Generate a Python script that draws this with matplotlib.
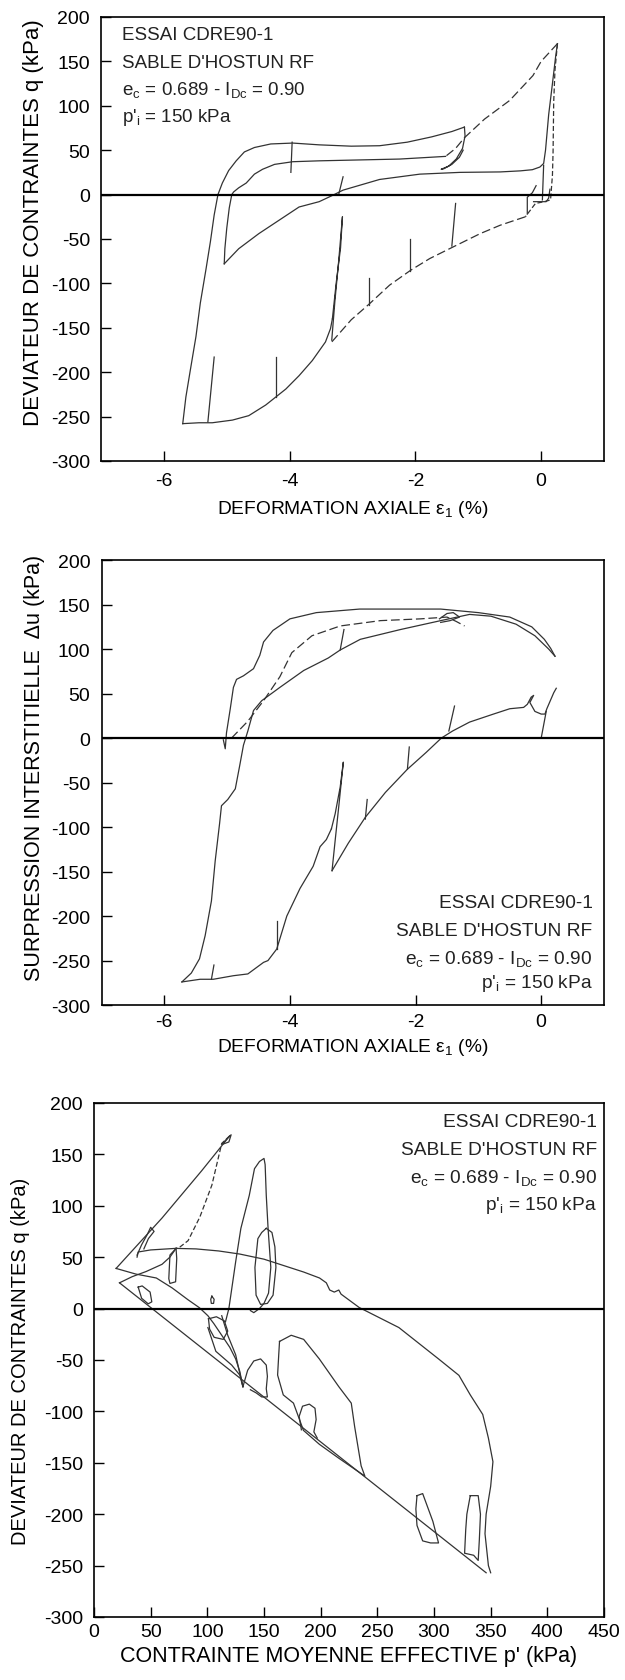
import matplotlib
matplotlib.use("Agg")
import matplotlib.pyplot as plt

plt.rcParams['font.family'] = ['Liberation Sans', 'DejaVu Sans']
plt.rcParams['mathtext.fontset'] = 'custom'
plt.rcParams['mathtext.rm'] = 'Liberation Sans'
plt.rcParams['mathtext.it'] = 'Liberation Sans:italic'
plt.rcParams['axes.unicode_minus'] = False

# ---------------- Panel 1 : q vs axial strain ----------------
p1_branch_x = [-5.70, -5.65, -5.58, -5.49, -5.42, -5.33, -5.26, -5.20, -5.14, -5.07, -4.97, -4.85, -4.72,
               -4.56, -4.30, -3.95, -3.53, -3.02, -2.57, -2.13, -1.74, -1.42, -1.22]
p1_branch_y = [-258, -228, -198, -160, -122, -84, -53, -23, 0, 13, 27, 38, 48,
               53, 57, 58, 56, 54.5, 55, 59, 65, 71, 76]
p1_loop_x = [-1.22, -1.21, -1.25, -1.35, -1.47, -1.59, -1.55, -1.42, -1.30, -1.24]
p1_loop_y = [76, 66, 52, 40, 32, 28.5, 29, 34, 42, 50]
p1_desc_x = [0.26, 0.0, -0.13, -0.5, -0.9, -1.22, -1.36, -1.52]
p1_desc_y = [170, 150, 134, 106, 85, 64, 52, 43]
p1_mid_x = [-1.52, -2.25, -2.89, -3.53, -3.95, -4.24, -4.43, -4.56, -4.69, -4.81, -4.89, -4.92,
            -4.96, -5.00, -5.03, -5.04]
p1_mid_y = [43, 40, 39, 38, 37, 34, 28.5, 23, 13, 7.6, 3, 0, -15, -38, -61, -78]
p1_rise_x = [-5.04, -4.81, -4.49, -4.17, -3.85, -3.53, -3.32, -3.15, -2.57, -1.93, -1.29, -0.65,
             -0.33, -0.14, -0.02, 0.04, 0.07, 0.12, 0.18, 0.23, 0.26]
p1_rise_y = [-78, -61, -44, -29, -14, -8, -1, 5, 17, 23, 25, 25.5, 26.7, 28, 31, 35, 50, 90, 125, 155, 170]
p1_drop_x = [0.26, 0.22, 0.20, 0.19, 0.18, 0.15, 0.05, -0.09, -0.23, -0.25]
p1_drop_y = [170, 140, 104, 48, 22, -6, -8, -10, -23, -25]
p1_low_x = [-0.25, -0.65, -0.97, -1.40, -1.77, -2.07, -2.41, -2.73, -3.02, -3.33]
p1_low_y = [-25, -34.5, -44, -59, -72, -85, -102, -123, -141, -166]
p1_bottom_x = [-3.32, -3.35, -3.43, -3.64, -3.85, -4.06, -4.22, -4.38, -4.65, -4.91, -5.23, -5.44, -5.70]
p1_bottom_y = [-140, -151, -166, -187, -204, -219, -228, -237, -249, -254, -257, -257, -258]
p1_bigspike_x = [-3.33, -3.28, -3.22, -3.16, -3.19, -3.26, -3.32]
p1_bigspike_y = [-164, -120, -75, -25, -60, -100, -140]
p1_small1_x = [-0.22, -0.22, -0.14, -0.08]
p1_small1_y = [-22, -3, 2, 10]
p1_small2_x = [-0.12, 0.08, 0.12, 0.14]
p1_small2_y = [-8, -8, -4, 6]
p1_small3_x = [0.02, 0.04]
p1_small3_y = [-6, 33]
p1_spk_bx = [-1.42, -2.08, -2.73, -4.22, -5.30, -3.98, -3.22]
p1_spk_by = [-58, -86, -124, -228, -256, 25, 0]
p1_spk_tx = [-1.36, -2.08, -2.73, -4.22, -5.20, -3.96, -3.15]
p1_spk_ty = [-10, -50, -94, -183, -183, 59, 20]

# ---------------- Panel 2 : pore pressure vs axial strain ----------------
p2_top_x = [-5.06, -5.03, -5.01, -4.95, -4.90, -4.85, -4.74, -4.58, -4.48, -4.42, -4.27, -4.0, -3.58,
            -2.89, -2.24, -1.60, -1.0, -0.5, -0.15, 0.05, 0.15, 0.22]
p2_top_y = [-2, -12, 6, 33, 57, 66, 70, 78, 93, 108, 121, 134, 141,
            145, 145, 145, 141, 136, 125, 111, 101, 92]
p2_mid_x = [-4.93, -4.67, -4.42, -4.16, -3.97, -3.65, -3.20, -2.56, -1.92, -1.50, -1.35, -1.22]
p2_mid_y = [0, 19, 42, 69, 96, 115, 126, 132, 134, 136, 131, 126]
p2_s_x = [-5.72, -5.57, -5.44, -5.35, -5.25, -5.19, -5.12, -5.09, -4.99, -4.87, -4.80, -4.74, -4.67,
          -4.58, -4.45, -4.16, -3.78, -3.39, -3.20, -2.88, -2.24, -1.60, -1.14, -0.8, -0.4, -0.1, 0.12, 0.22]
p2_s_y = [-274, -264, -248, -222, -183, -138, -96, -76, -69, -57, -31, -8, 8,
          31, 42, 57, 76, 90, 99, 111, 122, 132, 139, 137, 128, 115, 100, 92]
p2_hook_x = [-1.62, -1.50, -1.40, -1.30, -1.45, -1.60]
p2_hook_y = [134, 140, 141, 136, 132, 130]
p2_bottom_x = [-3.34, -3.42, -3.52, -3.63, -3.84, -4.05, -4.21, -4.35, -4.42, -4.67, -4.90, -5.22, -5.43, -5.72]
p2_bottom_y = [-102, -114, -122, -144, -169, -200, -237, -250, -252, -265, -267, -271, -271, -274]
p2_low_x = [-3.33, -3.07, -2.80, -2.48, -2.13, -1.83, -1.59, -1.41, -1.14, -0.76, -0.50, -0.28, -0.22,
            -0.16, -0.12, -0.18, -0.10, 0.0, 0.06, 0.09, 0.20, 0.24]
p2_low_y = [-149, -118, -89, -61, -35, -16, 0, 8, 18, 27, 33, 34.5, 38, 46, 48, 40, 30, 27, 27, 33, 51, 56]
p2_bigspike_x = [-3.33, -3.28, -3.22, -3.15, -3.20, -3.28, -3.34]
p2_bigspike_y = [-149, -115, -75, -27, -55, -85, -102]
p2_vert_x = [0.0, 0.08]
p2_vert_y = [0, 30]
p2_spk_bx = [-4.21, -5.25, -1.47, -2.13, -2.80, -3.20]
p2_spk_by = [-237, -271, 8, -35, -91, 99]
p2_spk_tx = [-4.21, -5.21, -1.38, -2.10, -2.77, -3.14]
p2_spk_ty = [-206, -255, 36, -10, -69, 122]

# ---------------- Panel 3 : q vs p' ----------------
p3_upper_x = [19.5, 60, 95, 119.8]
p3_upper_y = [39, 88, 134, 168]
p3_lobe_x = [113, 118, 121, 119, 114]
p3_lobe_y = [160, 166, 169, 162, 160]
p3_lower_x = [22.5, 346]
p3_lower_y = [25, -257]
p3_peakdesc_x = [119.8, 112.7, 104, 93.4, 83, 76, 72.4]
p3_peakdesc_y = [168, 160.6, 120, 89, 66, 60, 58.5]
p3_big_x = [38, 39, 50, 72, 90, 110, 128.6, 150, 164, 185, 199, 205, 208, 212, 216, 218, 234, 269, 304,
            322, 332, 343, 348, 352, 350, 346, 345, 348, 350]
p3_big_y = [50, 55, 57, 58.5, 58, 56, 53, 48, 43, 35.5, 29.7, 25, 18, 16, 18, 14, 1, -18.5, -49,
            -65, -84, -103, -126, -149, -173, -200, -219, -250, -257]
p3_tipcurve_x = [22.5, 33.7, 46, 60, 67, 72.4]
p3_tipcurve_y = [25, 31, 36, 43, 50, 58.5]
p3_tipdesc_x = [19.5, 37, 55, 69, 83, 93, 100.5, 105.7, 112.7, 119.8, 125, 128.6, 131.4]
p3_tipdesc_y = [39, 33.5, 29.7, 20, 8.5, 0.8, -7, -14.6, -26, -37.7, -49, -61, -76]
p3_loop58_x = [72.4, 67, 66, 67, 72, 73, 72.4]
p3_loop58_y = [58.5, 52, 29, 24.4, 26, 48.7, 58.5]
p3_lloop_x = [39, 42.5, 49.5, 51, 47.8, 42, 39]
p3_lloop_y = [20.8, 22, 16, 6.5, 4.6, 10, 20.8]
p3_llobe_x = [38, 42, 47, 50, 53, 48, 44]
p3_llobe_y = [52, 62, 72, 79, 75, 68, 58]
p3_tall_x = [116, 119, 122, 125, 129.6, 137, 141.6, 146, 150, 151, 152, 153.6, 156, 154, 150, 146, 141, 138]
p3_tall_y = [-13, 0, 22.7, 45.5, 78, 110, 136, 143, 146, 140, 110, 78, 40, 15, 5, 0, -4, -2]
p3_med_x = [152, 157, 159.6, 160.5, 158, 153, 147, 143, 142, 144.6, 148, 152]
p3_med_y = [78, 74, 60, 40, 13, 5, 4, 13, 40, 68, 74, 78]
p3_oval_x = [104, 106, 105.5, 103.5, 103, 104]
p3_oval_y = [12, 9, 5, 5, 9, 12]
p3_loopa_x = [101, 108, 115, 118, 114, 106, 102, 101]
p3_loopa_y = [-10, -8, -12, -22, -30, -28, -20, -10]
p3_inner1_x = [100.5, 107.5, 121.5, 128.6, 131.4]
p3_inner1_y = [-18.5, -41.6, -55, -64.7, -76]
p3_line2_x = [112.7, 118, 125, 128, 131.4]
p3_line2_y = [-7, -26, -45, -60, -76]
p3_round_x = [131.4, 135.6, 141, 147, 152, 153, 152, 153, 148, 143, 138]
p3_round_y = [-76, -60, -51, -49, -55, -66, -78, -86, -86, -82, -79]
p3_bigin_x = [163.7, 174, 185, 198.8, 216, 227, 230, 235.7, 239, 216, 198.8, 184.8, 176, 167, 162, 163, 163.7]
p3_bigin_y = [-32, -26, -30, -49, -76, -92, -115, -153, -163, -145.6, -132, -118.5, -92, -84, -64.7, -45, -32]
p3_smallin_x = [183, 181, 184, 190, 195, 196, 194, 197]
p3_smallin_y = [-118, -105, -95, -93, -97, -108, -120, -126]
p3_r1_x = [285, 290, 294, 299, 304, 297, 290, 285, 284, 285]
p3_r1_y = [-182, -180, -192, -207, -228, -228, -226, -211, -195, -182]
p3_r2_x = [332, 339, 341, 340, 339, 335, 327, 328, 329, 332]
p3_r2_y = [-182, -182, -200, -225, -245, -240, -238, -215, -200, -182]

info_lines = ["ESSAI CDRE90-1", "SABLE D'HOSTUN RF",
              r"e$_\mathrm{c}$ = 0.689 - I$_\mathrm{Dc}$ = 0.90", r"p'$_\mathrm{i}$ = 150 kPa"]
p1_info_y = [180, 149, 118.5, 88]
p2_info_y = [-185, -216, -247, -275]
p3_info_y = [182, 155, 128, 101]

strain_ticks = [-6, -4, -2, 0]
q_ticks = [200, 150, 100, 50, 0, -50, -100, -150, -200, -250, -300]
p_ticks = [0, 50, 100, 150, 200, 250, 300, 350, 400, 450]

LC = '#333333'
LW = 0.9

fig = plt.figure(figsize=(6.25, 16.81), dpi=100)
ax1 = fig.add_axes([0.1616, 0.7252, 0.8048, 0.2641])
ax2 = fig.add_axes([0.1624, 0.4015, 0.8040, 0.2647])
ax3 = fig.add_axes([0.1504, 0.0375, 0.8160, 0.3058])


def style(ax, xlim, xticks, xpad, ypad):
    ax.set_xlim(*xlim)
    ax.set_ylim(-300, 200)
    ax.set_xticks(xticks)
    ax.set_yticks(q_ticks)
    ax.tick_params(direction='in', length=7, width=1, labelsize=14, top=False, right=False)
    ax.tick_params(axis='x', pad=xpad)
    ax.tick_params(axis='y', pad=ypad)
    for s in ax.spines.values():
        s.set_linewidth(1.2)
    ax.axhline(0, color='black', lw=1.6, zorder=3)


def line(ax, x, y, ls='-'):
    ax.plot(x, y, color=LC, lw=LW, ls=ls, zorder=2)


# Panel 1
style(ax1, (-7, 1), strain_ticks, 8, 8)
line(ax1, p1_branch_x, p1_branch_y)
line(ax1, p1_loop_x, p1_loop_y)
line(ax1, p1_desc_x, p1_desc_y, (0, (7, 3)))
line(ax1, p1_mid_x, p1_mid_y)
line(ax1, p1_rise_x, p1_rise_y)
line(ax1, p1_drop_x, p1_drop_y, (0, (4, 2)))
line(ax1, p1_low_x, p1_low_y, (0, (7, 3)))
line(ax1, p1_bottom_x, p1_bottom_y)
line(ax1, p1_bigspike_x, p1_bigspike_y)
line(ax1, p1_small1_x, p1_small1_y)
line(ax1, p1_small2_x, p1_small2_y)
line(ax1, p1_small3_x, p1_small3_y)
for bx, by, tx, ty in zip(p1_spk_bx, p1_spk_by, p1_spk_tx, p1_spk_ty):
    line(ax1, [bx, tx], [by, ty])
for txt, yy in zip(info_lines, p1_info_y):
    ax1.text(-6.67, yy, txt, fontsize=13.5, ha='left', va='center', color='#222222')
ax1.set_ylabel("DEVIATEUR DE CONTRAINTES q (kPa)", fontsize=16)
ax1.set_xlabel(r"DEFORMATION AXIALE ε$_\mathrm{1}$ (%)", fontsize=13.8)
ax1.yaxis.set_label_coords(-0.113, 0.538)
ax1.xaxis.set_label_coords(0.5, -0.083)

# Panel 2
style(ax2, (-7, 1), strain_ticks, 6, 8)
line(ax2, p2_top_x, p2_top_y)
line(ax2, p2_mid_x, p2_mid_y, (0, (7, 3)))
line(ax2, p2_s_x, p2_s_y)
line(ax2, p2_hook_x, p2_hook_y)
line(ax2, p2_bottom_x, p2_bottom_y)
line(ax2, p2_low_x, p2_low_y)
line(ax2, p2_bigspike_x, p2_bigspike_y)
line(ax2, p2_vert_x, p2_vert_y)
for bx, by, tx, ty in zip(p2_spk_bx, p2_spk_by, p2_spk_tx, p2_spk_ty):
    line(ax2, [bx, tx], [by, ty])
for txt, yy in zip(info_lines, p2_info_y):
    ax2.text(0.82, yy, txt, fontsize=13.8, ha='right', va='center', color='#222222')
ax2.set_ylabel("SURPRESSION INTERSTITIELLE  Δu (kPa)", fontsize=15.5)
ax2.set_xlabel(r"DEFORMATION AXIALE ε$_\mathrm{1}$ (%)", fontsize=13.8)
ax2.yaxis.set_label_coords(-0.113, 0.536)
ax2.xaxis.set_label_coords(0.5, -0.07)

# Panel 3
style(ax3, (0, 450), p_ticks, 4, 8)
for xs, ys in [(p3_upper_x, p3_upper_y), (p3_lobe_x, p3_lobe_y), (p3_lower_x, p3_lower_y),
               (p3_big_x, p3_big_y), (p3_tipcurve_x, p3_tipcurve_y), (p3_tipdesc_x, p3_tipdesc_y),
               (p3_loop58_x, p3_loop58_y), (p3_lloop_x, p3_lloop_y), (p3_llobe_x, p3_llobe_y),
               (p3_tall_x, p3_tall_y), (p3_med_x, p3_med_y), (p3_oval_x, p3_oval_y),
               (p3_loopa_x, p3_loopa_y), (p3_inner1_x, p3_inner1_y), (p3_line2_x, p3_line2_y),
               (p3_round_x, p3_round_y), (p3_bigin_x, p3_bigin_y), (p3_smallin_x, p3_smallin_y),
               (p3_r1_x, p3_r1_y), (p3_r2_x, p3_r2_y)]:
    line(ax3, xs, ys)
line(ax3, p3_peakdesc_x, p3_peakdesc_y, (0, (4, 2)))
for txt, yy in zip(info_lines, p3_info_y):
    ax3.text(444, yy, txt, fontsize=13.8, ha='right', va='center', color='#222222')
ax3.set_ylabel("DEVIATEUR DE CONTRAINTES q (kPa)", fontsize=14.5)
ax3.set_xlabel("CONTRAINTE MOYENNE EFFECTIVE p' (kPa)", fontsize=15.5)
ax3.yaxis.set_label_coords(-0.125, 0.5)
ax3.xaxis.set_label_coords(0.5, -0.055)

fig.savefig("out.png", dpi=100)
